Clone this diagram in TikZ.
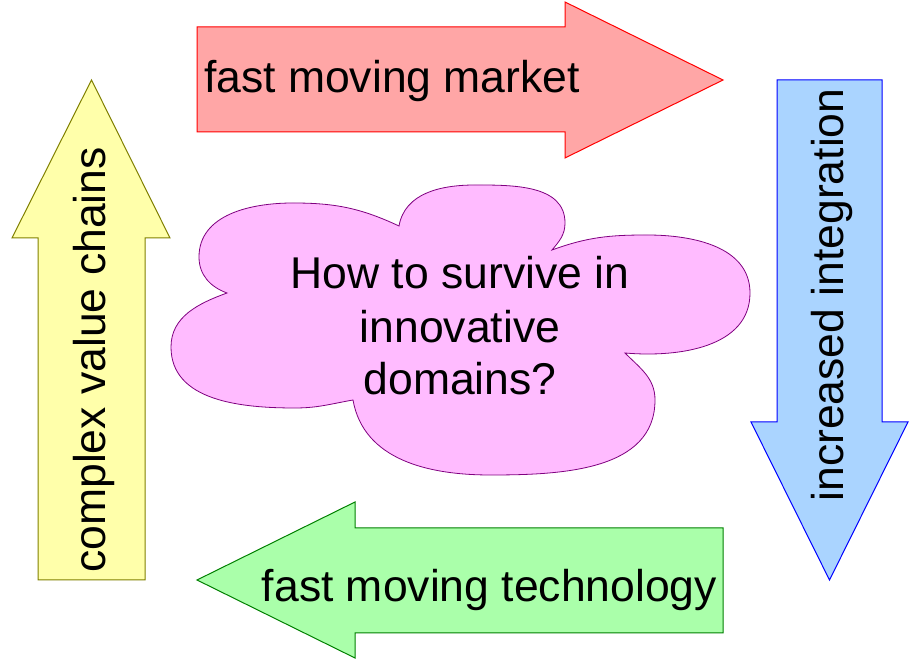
\documentclass[tikz,border=0pt]{standalone}
\usepackage{fontspec}
\setmainfont{Liberation Sans}
\definecolor{redfill}{RGB}{255,166,166}
\definecolor{redline}{RGB}{255,0,0}
\definecolor{bluefill}{RGB}{170,212,255}
\definecolor{blueline}{RGB}{0,0,255}
\definecolor{greenfill}{RGB}{170,255,170}
\definecolor{greenline}{RGB}{0,128,0}
\definecolor{yellowfill}{RGB}{255,255,170}
\definecolor{yellowline}{RGB}{128,128,0}
\definecolor{cloudfill}{RGB}{255,187,255}
\definecolor{cloudline}{RGB}{128,0,128}
\begin{document}
\begin{tikzpicture}[x=1pt,y=1pt,
  lbl/.style={inner sep=0pt, text=black, font=\fontsize{44.5}{53}\selectfont},
  shapeline/.style={line width=1pt, line join=miter}]
\useasboundingbox (0,0) rectangle (920,660);
\fill[white] (0,0) rectangle (920,660);
% top arrow (red)
\filldraw[shapeline, fill=redfill, draw=redline]
  (197,528) -- (565,528) -- (565,502) -- (723,580) -- (565,658) -- (565,633) -- (197,633) -- cycle;
% bottom arrow (green)
\filldraw[shapeline, fill=greenfill, draw=greenline]
  (723,27) -- (355,27) -- (355,2) -- (197,80) -- (355,158) -- (355,132) -- (723,132) -- cycle;
% right arrow (blue)
\filldraw[shapeline, fill=bluefill, draw=blueline]
  (777,580) -- (882,580) -- (882,238) -- (908,238) -- (829.5,80) -- (751,238) -- (777,238) -- cycle;
% left arrow (yellow)
\filldraw[shapeline, fill=yellowfill, draw=yellowline]
  (38,80) -- (145,80) -- (145,422) -- (170,422) -- (91.5,580) -- (12,422) -- (38,422) -- cycle;
% cloud
\filldraw[line width=0.8pt, fill=cloudfill, draw=cloudline]
  (227,367) to[out=160,in=270] (199,403) to[out=90,in=180] (293,457) to[out=0,in=155] (399,434)
  to[out=80,in=180] (475,475) to[out=0,in=90] (565,437) to[out=270,in=50] (552,410)
  to[out=20,in=180] (647,425) to[out=0,in=90] (750,367) to[out=270,in=355] (625,307)
  to[out=-45,in=90] (655,260) to[out=270,in=0] (490,185) to[out=180,in=280] (353,260)
  to[out=190,in=0] (295,252) to[out=180,in=270] (171,313) to[out=90,in=200] (227,367) -- cycle;
% texts
\node[lbl, anchor=base] (market) at (392,567) {fast moving market};
\node[lbl, anchor=base] (technology) at (489.5,58) {fast moving technology};
\node[lbl, anchor=base, rotate=90] (integration) at (843,365) {increased integration};
\node[lbl, anchor=base, rotate=90] (chains) at (105,300) {complex value chains};
\node[lbl, anchor=base] (q1) at (460,371) {How to survive in};
\node[lbl, anchor=base] (q2) at (460,317) {innovative};
\node[lbl, anchor=base] (q3) at (460,265) {domains?};
\end{tikzpicture}
\end{document}
